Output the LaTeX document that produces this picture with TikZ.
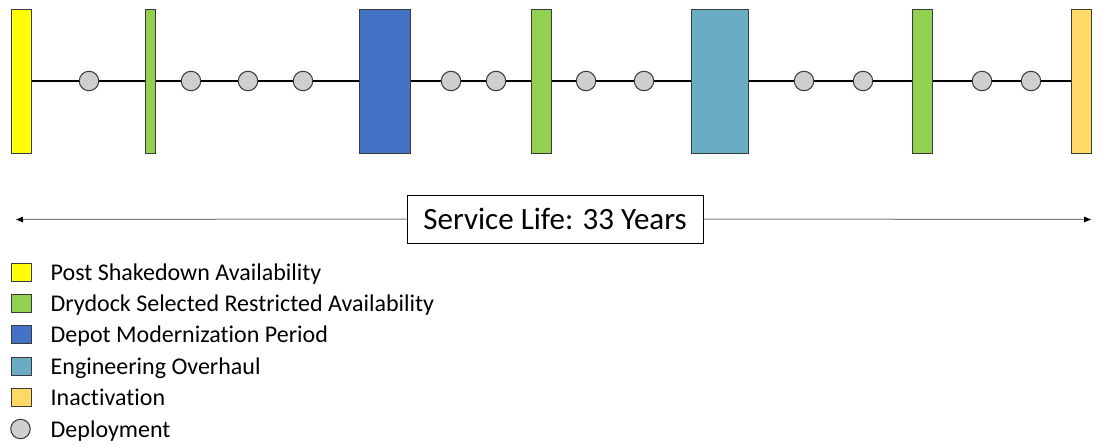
\documentclass[tikz,border=0pt]{standalone}
\usepackage{fontspec}
\setmainfont{Carlito}[Ligatures={NoCommon}]
\usetikzlibrary{arrows.meta}
\definecolor{psaYellow}{HTML}{FFFF00}
\definecolor{dsraGreen}{HTML}{92D050}
\definecolor{dmpBlue}{HTML}{4472C4}
\definecolor{eohTeal}{HTML}{6AACC4}
\definecolor{inaGold}{HTML}{FFD966}
\definecolor{deployGray}{HTML}{D0CECE}
\definecolor{edgeDark}{HTML}{3A3A3A}
\definecolor{spanGray}{HTML}{7F7F7F}
\tikzset{
  period/.style={draw=edgeDark, line width=1pt, minimum height=144pt, inner sep=0pt},
  deploy/.style={circle, draw=edgeDark, fill=deployGray, line width=1pt, minimum size=19.5pt, inner sep=0pt},
  timeline/.style={line width=1.6pt, black},
  keybox/.style={draw=edgeDark, line width=1pt, minimum width=20pt, minimum height=18pt, inner sep=0pt},
  keytext/.style={anchor=base west, inner sep=0pt, font=\fontsize{24}{26}\selectfont},
  span/.style={draw=spanGray, line width=1pt, -{Triangle[length=7pt,width=5.5pt,color=black]}},
}
\begin{document}
\begin{tikzpicture}[x=1pt,y=-1pt]
\useasboundingbox (0,0) rectangle (1100,445);

% maintenance periods along the service life
\node[period, fill=psaYellow, minimum width=20pt] (psa) at (21,81) {};
\node[period, fill=dsraGreen, minimum width=10pt] (dsraA) at (150,81) {};
\node[period, fill=dmpBlue, minimum width=51pt] (dmp) at (384.5,81) {};
\node[period, fill=dsraGreen, minimum width=20pt] (dsraB) at (541,81) {};
\node[period, fill=eohTeal, minimum width=57pt] (eoh) at (720,81) {};
\node[period, fill=dsraGreen, minimum width=19.5pt] (dsraC) at (922.3,81) {};
\node[period, fill=inaGold, minimum width=19.5pt] (ina) at (1081.5,81) {};

% deployments
\node[deploy] (d1) at (89,81) {};
\node[deploy] (d2) at (191,81) {};
\node[deploy] (d3) at (248,81) {};
\node[deploy] (d4) at (303,81) {};
\node[deploy] (d5) at (451,81) {};
\node[deploy] (d6) at (496,81) {};
\node[deploy] (d7) at (586,81) {};
\node[deploy] (d8) at (644,81) {};
\node[deploy] (d9) at (804,81) {};
\node[deploy] (d10) at (863,81) {};
\node[deploy] (d11) at (982,81) {};
\node[deploy] (d12) at (1031,81) {};

% timeline segments
\draw[timeline] (psa) -- (d1) -- (dsraA);
\draw[timeline] (dsraA) -- (d2) -- (d3) -- (d4) -- (dmp);
\draw[timeline] (dmp) -- (d5) -- (d6) -- (dsraB);
\draw[timeline] (dsraB) -- (d7) -- (d8) -- (eoh);
\draw[timeline] (eoh) -- (d9) -- (d10) -- (dsraC);
\draw[timeline] (dsraC) -- (d11) -- (d12) -- (ina);

% service life span
\node[draw=black, line width=1pt, minimum width=296pt, minimum height=48pt, inner sep=0pt,
      font=\fontsize{31}{34}\selectfont] (life) at (555,219) {Service Life: 33 Years};
\coordinate (lifeL) at (16,219.5);
\coordinate (lifeR) at (1091,219.5);
\draw[span] (life.west) -- (lifeL);
\draw[span] (life.east) -- (lifeR);

% legend
\node[keybox, fill=psaYellow] (k1) at (21,272) {};
\node[keybox, fill=dsraGreen] (k2) at (21,303.4) {};
\node[keybox, fill=dmpBlue] (k3) at (21,334.8) {};
\node[keybox, fill=eohTeal] (k4) at (21,366.2) {};
\node[keybox, fill=inaGold] (k5) at (21,397.6) {};
\node[deploy] (k6) at (20.5,429) {};
\node[keytext] (t1) at (50.5,280) {Post Shakedown Availability};
\node[keytext] (t2) at (50.5,311.4) {Drydock Selected Restricted Availability};
\node[keytext] (t3) at (50.5,342.8) {Depot Modernization Period};
\node[keytext] (t4) at (50.5,374.2) {Engineering Overhaul};
\node[keytext] (t5) at (50.5,405.6) {Inactivation};
\node[keytext] (t6) at (50.5,437) {Deployment};
\end{tikzpicture}
\end{document}
